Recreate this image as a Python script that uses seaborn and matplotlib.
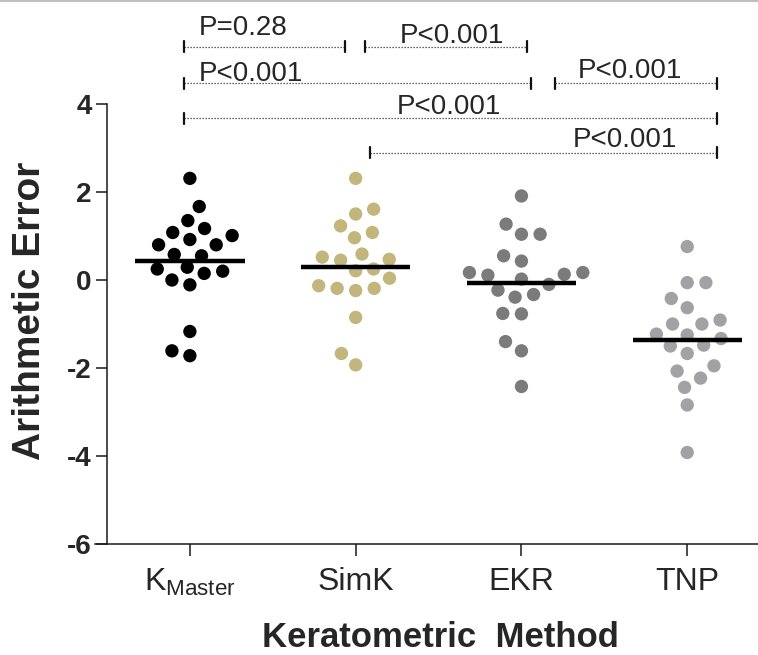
import numpy as np
import pandas as pd
import matplotlib
matplotlib.use('Agg')
import matplotlib.pyplot as plt
import seaborn as sns
from matplotlib.lines import Line2D

# ---------------- data ----------------
methods = ['KMaster', 'SimK', 'EKR', 'TNP']
tick_labels = [r'$\mathregular{K_{Master}}$', 'SimK', 'EKR', 'TNP']

kmaster = [2.31, 1.67, 1.17, 1.35, 1.01, 1.08, 0.80, 0.80, 0.92, 0.58,
           0.55, 0.25, 0.15, -0.11, 0.00, 0.20, 0.29, -1.17, -1.61, -1.72]
simk = [2.31, 1.61, 1.50, 1.23, 1.08, 0.96, 0.59, 0.47, 0.45, 0.52,
        0.25, 0.21, 0.04, -0.19, -0.24, -0.19, -0.13, -0.85, -1.67, -1.93]
ekr = [1.91, 1.27, 1.04, 1.04, 0.55, 0.43, 0.13, 0.17, 0.17, 0.11,
       0.02, -0.10, -0.23, -0.39, -0.33, -0.77, -0.76, -1.40, -1.61, -2.42]
tnp = [0.76, -0.06, -0.06, -0.42, -0.63, -0.91, -1.00, -1.00, -1.23, -1.25,
       -1.33, -1.50, -1.48, -1.67, -1.95, -2.07, -2.23, -2.44, -2.84, -3.92]

y_ticks = [-6, -4, -2, 0, 2, 4]
y_tick_labels = ['-6', '-4', '-2', '0', '2', '4']

comparisons = [('KMaster', 'SimK', 'P=0.28'),
               ('SimK', 'EKR', 'P<0.001'),
               ('KMaster', 'EKR', 'P<0.001'),
               ('EKR', 'TNP', 'P<0.001'),
               ('KMaster', 'TNP', 'P<0.001'),
               ('SimK', 'TNP', 'P<0.001')]

# ---------------- style / layout ----------------
colors = ['#000000', '#c2b67c', '#7b7b7b', '#a2a2a6']
# bracket layout: (x-start offset, x-end offset, line y, text x, text y)
bracket_layout = [(-0.033, -0.063, 5.30, 0.051, 5.57),
                  (0.058, 0.032, 5.30, 1.265, 5.39),
                  (-0.033, 0.060, 4.47, 0.051, 4.52),
                  (0.205, 0.178, 4.47, 2.34, 4.59),
                  (-0.033, 0.178, 3.675, 1.247, 3.77),
                  (0.084, 0.178, 2.89, 2.31, 3.03)]

sns.set_style('ticks')
plt.rcParams['font.family'] = ['Liberation Sans', 'DejaVu Sans']
plt.rcParams['mathtext.default'] = 'regular'
plt.rcParams['axes.unicode_minus'] = False

W, H = 758, 655
fig = plt.figure(figsize=(W / 100, H / 100), dpi=100)
ax = fig.add_axes([107 / W, 1 - 544 / H, 1 - 107 / W, (544 - 104) / H])

df = pd.DataFrame({
    'method': np.repeat(methods, [len(kmaster), len(simk), len(ekr), len(tnp)]),
    'value': np.concatenate([kmaster, simk, ekr, tnp]),
})

XMAX = (W - 190.5) / 165.6
ax.set_xlim(-0.5, XMAX)
ax.set_ylim(-6, 4)

# lay the swarm out with a slightly larger spacing, then shrink the dots
sns.swarmplot(data=df, x='method', y='value', hue='method', order=methods,
              hue_order=methods, palette=colors, size=12.8, linewidth=0,
              legend=False, ax=ax, zorder=3, warn_thresh=1.0)
ax.set_xlim(-0.5, XMAX)
ax.set_ylim(-6, 4)
fig.canvas.draw()
for coll in ax.collections:
    if 'draw' in coll.__dict__:
        del coll.__dict__['draw']
    coll.set_sizes([9.6 ** 2])

means = df.groupby('method')['value'].mean().reindex(methods)
for i, m in enumerate(methods):
    ax.hlines(means[m], i - 0.33, i + 0.33, color='black', lw=3.2, zorder=5)

ax.set_xlim(-0.5, XMAX)
ax.set_ylim(-6, 4)
ax.set_yticks(y_ticks)
ax.set_yticklabels(y_tick_labels, fontsize=20, fontweight='bold')
ax.set_xticks(range(len(methods)))
ax.set_xticklabels(tick_labels, fontsize=23)

for s in ['top', 'right']:
    ax.spines[s].set_visible(False)
for s in ['left', 'bottom']:
    ax.spines[s].set_linewidth(1.1)
    ax.spines[s].set_color('#1a1a1a')
ax.spines['bottom'].set_bounds(-0.571, XMAX)
ax.tick_params(axis='y', length=8, width=1.1, pad=3, color='#1a1a1a')
ax.tick_params(axis='x', length=8.5, width=1.1, pad=8, color='#1a1a1a')

ax.set_ylabel('Arithmetic Error', fontsize=28, fontweight='bold', va='center')
ax.yaxis.set_label_coords((30 - 107) / (W - 107), (544 - 311) / 440)
ax.set_xlabel('Keratometric  Method', fontsize=25, fontweight='bold', va='top')
ax.xaxis.set_label_coords((440 - 107) / (W - 107), (544 - 621) / 440)

# significance brackets
idx = {m: i for i, m in enumerate(methods)}
cap = 0.125
for (a, b, label), (d0, d1, yl, tx, ty) in zip(comparisons, bracket_layout):
    x0 = idx[a] + d0
    x1 = idx[b] + d1
    ax.plot([x0, x1], [yl, yl], color='#333333', lw=0.9, ls=(0, (1, 1.4)),
            clip_on=False, zorder=4)
    for xc in (x0, x1):
        ax.plot([xc, xc], [yl - cap, yl + cap], color='#111111', lw=1.6,
                clip_on=False, zorder=4)
    ax.text(tx, ty, label, fontsize=20, ha='left', va='baseline',
            clip_on=False)

fig.add_artist(Line2D([0, 1], [1 - 1 / H, 1 - 1 / H], color='#c0c0c0',
                      lw=1.5, transform=fig.transFigure))

fig.savefig('out.png', dpi=100)
